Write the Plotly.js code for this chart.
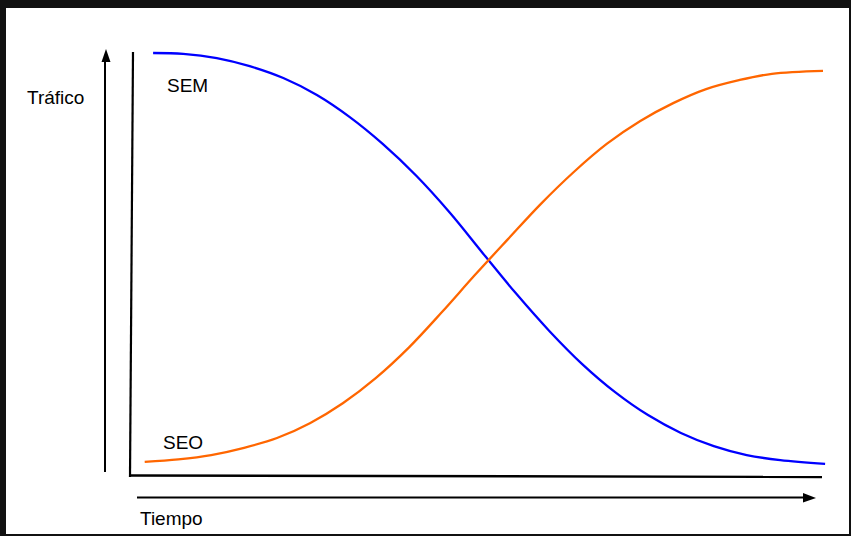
<!DOCTYPE html>
<html>
<head>
<meta charset="utf-8">
<script src="https://cdn.plot.ly/plotly-3.0.1.min.js"></script>
<style>
  html, body { margin: 0; padding: 0; background: #fff; }
  #chart { width: 851px; height: 536px; }
</style>
</head>
<body>
<div id="chart"></div>
<script>
// tiempo (unidades arbitrarias) y tráfico (0-100)
const semTiempo = [3.3, 7.6, 12.4, 17.1, 21.9, 26.7, 31.4, 36.1, 40.9, 45.7, 50.4, 55.1, 59.9, 64.6, 69.3, 74, 78.7, 83.4, 88.1, 92.9, 99.3];
const semTrafico = [99.3, 99.1, 98.1, 96.2, 93.4, 89.4, 84.2, 77.9, 70.4, 61.7, 52.2, 42.8, 33.9, 26.1, 19.5, 14.1, 9.9, 6.8, 4.7, 3.5, 2.6];

const seoTiempo = [2.1, 6.9, 11.6, 16.3, 21, 25.7, 30.4, 35.1, 39.9, 44.6, 49.3, 54, 58.7, 63.4, 68.1, 72.9, 77.6, 82.3, 87, 91.7, 99];
const seoTrafico = [3.1, 3.7, 4.7, 6.4, 8.7, 12.2, 16.9, 22.8, 30.1, 38.4, 47.1, 55.5, 63.8, 71.3, 77.9, 83.3, 87.5, 90.8, 92.9, 94.4, 95.1];

const W = 851, H = 536;
// pixel -> paper
const px = v => v / W;
const py = v => 1 - v / H;

const trazos = [
    {
        x: semTiempo, y: semTrafico, type: 'scatter', mode: 'lines', name: 'SEM',
        line: { color: '#0000ff', width: 2.3, shape: 'spline', smoothing: 1 },
        hoverinfo: 'skip'
    },
    {
        x: seoTiempo, y: seoTrafico, type: 'scatter', mode: 'lines', name: 'SEO',
        line: { color: '#ff6600', width: 2.3, shape: 'spline', smoothing: 1 },
        hoverinfo: 'skip'
    }
];

function linea(x0, y0, x1, y1, w) {
    return { type: 'line', xref: 'paper', yref: 'paper',
        x0: px(x0), y0: py(y0), x1: px(x1), y1: py(y1),
        line: { color: '#000', width: w } };
}
function triangulo(pts) {
    const d = 'M ' + pts.map(p => px(p[0]) + ' ' + py(p[1])).join(' L ') + ' Z';
    return { type: 'path', xref: 'paper', yref: 'paper', path: d,
        fillcolor: '#000', line: { color: '#000', width: 0 } };
}
function marco(x0, y0, x1, y1) {
    return { type: 'rect', xref: 'paper', yref: 'paper',
        x0: px(x0), y0: py(y0), x1: px(x1), y1: py(y1),
        fillcolor: '#111', line: { width: 0 }, layer: 'below' };
}

const shapes = [
    marco(0, 0, W, 8),
    marco(0, 0, 6, H),
    marco(849, 0, W, H),
    marco(0, 534, W, H),
    // ejes
    linea(133, 52, 130, 477, 2.2),
    linea(130, 475.5, 822, 477, 2.4),
    // flecha vertical
    linea(105, 472, 105, 60, 2),
    triangulo([[106, 49], [101.5, 62], [110.5, 62]]),
    // flecha horizontal
    linea(137, 497.5, 806, 497.5, 2),
    triangulo([[816, 498], [803, 493], [803, 502.5]])
];

function etiqueta(texto, x, y) {
    return { text: texto, xref: 'paper', yref: 'paper', x: px(x), y: py(y),
        xanchor: 'left', yanchor: 'middle', showarrow: false, borderpad: 0, borderwidth: 0,
        font: { family: 'Liberation Sans, Arial, sans-serif', size: 19, color: '#000' } };
}

const layout = {
    width: W, height: H,
    margin: { l: 0, r: 0, t: 0, b: 0 },
    paper_bgcolor: '#fff',
    plot_bgcolor: 'rgba(0,0,0,0)',
    showlegend: false,
    xaxis: { range: [-130 / 7, (W - 130) / 7], visible: false, fixedrange: true },
    yaxis: { range: [-(H - 475) / 4.25, 475 / 4.25], visible: false, fixedrange: true },
    shapes: shapes,
    annotations: [
        etiqueta('Tráfico', 27, 97),
        etiqueta('SEM', 167, 85),
        etiqueta('SEO', 163, 442),
        etiqueta('Tiempo', 140, 518)
    ]
};

Plotly.newPlot('chart', trazos, layout, { displayModeBar: false, staticPlot: true });
</script>
</body>
</html>
